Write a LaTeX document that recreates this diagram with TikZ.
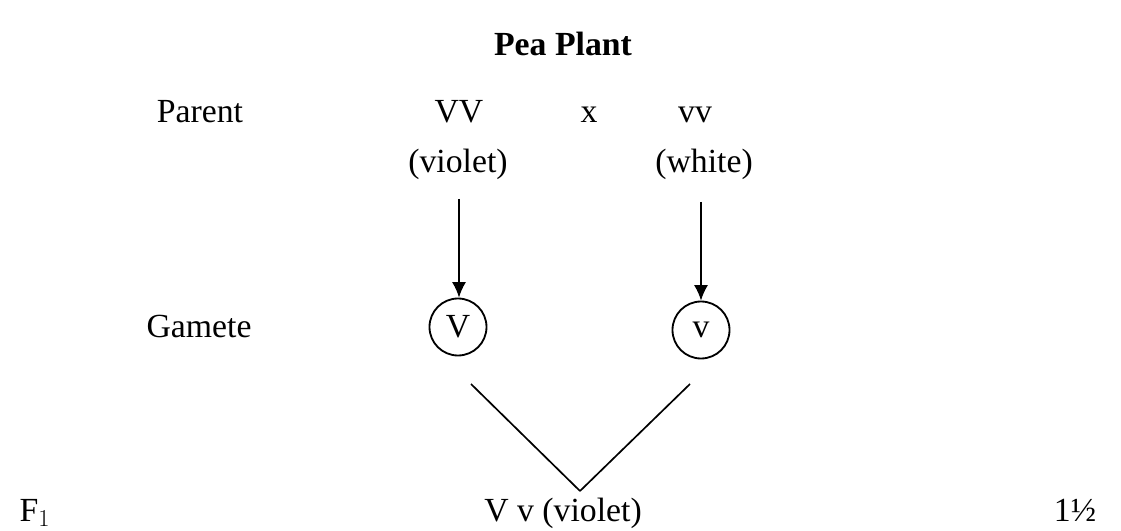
\documentclass[tikz,border=0pt]{standalone}
\usepackage{fontspec}
\setmainfont{Liberation Serif}
\usetikzlibrary{arrows.meta}
\begin{document}
\begin{tikzpicture}[x=0.025cm,y=-0.025cm,
    every node/.style={font=\fontsize{24}{28}\selectfont,inner sep=1pt},
    lbl/.style={anchor=base},
    gamete/.style={draw,circle,line width=1.3pt,minimum size=57*0.025cm,inner sep=0pt}]
      \useasboundingbox (0,0) rectangle (1121,531);
      \draw
        (563,56) node[lbl] (title){\textbf{Pea Plant}}
        (200,123) node[lbl] (parent){Parent}
        (459,123) node[lbl] (VV){VV}
        (589,123) node[lbl] (cross){x}
        (695,123) node[lbl] (vv){vv}
        (458,173) node[lbl] (violet){(violet)}
        (704,173) node[lbl] (white){(white)}
        (199,338) node[lbl] (gamete){Gamete}
        (35,521) node[lbl] (F1){F$_1$}
        (563,521) node[lbl] (Vv){V v (violet)}
        (1075,521) node[lbl] (mark){1½};
      \node[gamete] (V) at (458,327) {V};
      \node[gamete] (v) at (701,330) {v};
      \coordinate (a1) at (459,199);
      \coordinate (a2) at (701,202);
      \coordinate (VL) at (471,384);
      \coordinate (vR) at (690,384);
      \coordinate (join) at (580,491);
      \begin{scope}[line width=1.2pt,-{Latex[length=11pt,width=10pt]}]
        \draw (a1) to (a1 |- V.north);
        \draw (a2) to (a2 |- v.north);
      \end{scope}
      \begin{scope}[line width=1.2pt,-]
        \draw (VL) to (join);
        \draw (vR) to (join);
      \end{scope}
    \end{tikzpicture}
\end{document}
